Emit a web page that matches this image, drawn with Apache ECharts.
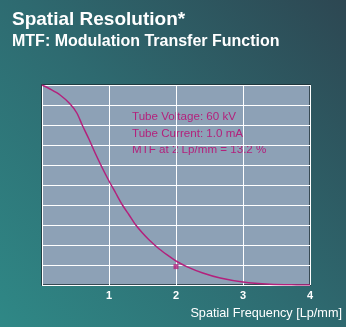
<!DOCTYPE html>
<html><head><meta charset="utf-8">
<script src="https://cdn.jsdelivr.net/npm/echarts@6/dist/echarts.min.js"></script>
<style>html,body{margin:0;padding:0;}#c{width:346px;height:327px;}</style>
</head><body><div id="c"></div>
<script>
const titleText = 'Spatial Resolution*';
const subtitleText = 'MTF: Modulation Transfer Function';
const xAxisName = 'Spatial Frequency [Lp/mm]';
const notes = ['Tube Voltage: 60 kV', 'Tube Current: 1.0 mA', 'MTF at 2 Lp/mm = 13.2 %'];
const freq = [0, 0.12, 0.27, 0.42, 0.52, 0.6, 0.7, 0.8, 0.9, 1.0, 1.1, 1.2, 1.3, 1.4, 1.5, 1.6, 1.75, 1.9, 2.0, 2.16, 2.4, 2.66, 3.0, 3.4, 3.8, 4.0];
const mtf  = [1.0, 0.98, 0.95, 0.905, 0.86, 0.80, 0.73, 0.655, 0.585, 0.52, 0.46, 0.40, 0.35, 0.30, 0.26, 0.225, 0.18, 0.143, 0.12, 0.092, 0.06, 0.035, 0.015, 0.004, 0.0005, 0.0];
const markerPoint = [2, 0.092];

const chart = echarts.init(document.getElementById('c'));
const magenta = '#b3217c';
chart.setOption({
  backgroundColor: new echarts.graphic.LinearGradient(0, 1, 1, 0, [
    {offset: 0, color: '#2f8886'}, {offset: 0.5, color: '#2e6a70'}, {offset: 1, color: '#2d4752'}
  ]),
  animation: false,
  title: [
    {text: titleText, left: 7, top: 5, textStyle: {color: '#ffffff', fontFamily: 'Liberation Sans, Arial', fontWeight: 'bold', fontSize: 19}},
    {text: subtitleText, left: 7, top: 29, textStyle: {color: '#ffffff', fontFamily: 'Liberation Sans, Arial', fontWeight: 'bold', fontSize: 16}}
  ],
  grid: {left: 42, right: 36, top: 85, bottom: 42, show: true, backgroundColor: '#8da1b6', borderColor: '#1c2e35', borderWidth: 1.5},
  xAxis: {
    type: 'value', min: 0, max: 4, interval: 1,
    name: xAxisName, nameLocation: 'end', nameGap: 0,
    nameTextStyle: {color: '#ffffff', fontFamily: 'Liberation Sans, Arial', fontSize: 12.7, align: 'right', verticalAlign: 'top', padding: [22, -32, 0, 0]},
    axisLine: {show: false}, axisTick: {show: false},
    axisLabel: {color: '#ffffff', fontFamily: 'Liberation Sans, Arial', fontWeight: 'bold', fontSize: 11, margin: 5, showMinLabel: false},
    splitLine: {show: true, lineStyle: {color: '#ffffff', width: 1}}
  },
  yAxis: {
    type: 'value', min: 0, max: 1, interval: 0.1,
    axisLine: {show: false}, axisTick: {show: false}, axisLabel: {show: false},
    splitLine: {show: true, lineStyle: {color: '#ffffff', width: 1}}
  },
  series: [
    {type: 'line', data: freq.map((f, i) => [f, mtf[i]]), smooth: 0.3, showSymbol: false,
     lineStyle: {color: magenta, width: 1.5}, z: 3},
    {type: 'scatter', data: [markerPoint], symbol: 'rect', symbolSize: 5, itemStyle: {color: magenta}, z: 4}
  ],
  graphic: notes.map((t, i) => ({
    type: 'text', left: 132, top: 111 + i * 16.3,
    style: {text: t, fill: magenta, font: '11.6px "Liberation Sans", Arial'}
  }))
});
</script></body></html>
